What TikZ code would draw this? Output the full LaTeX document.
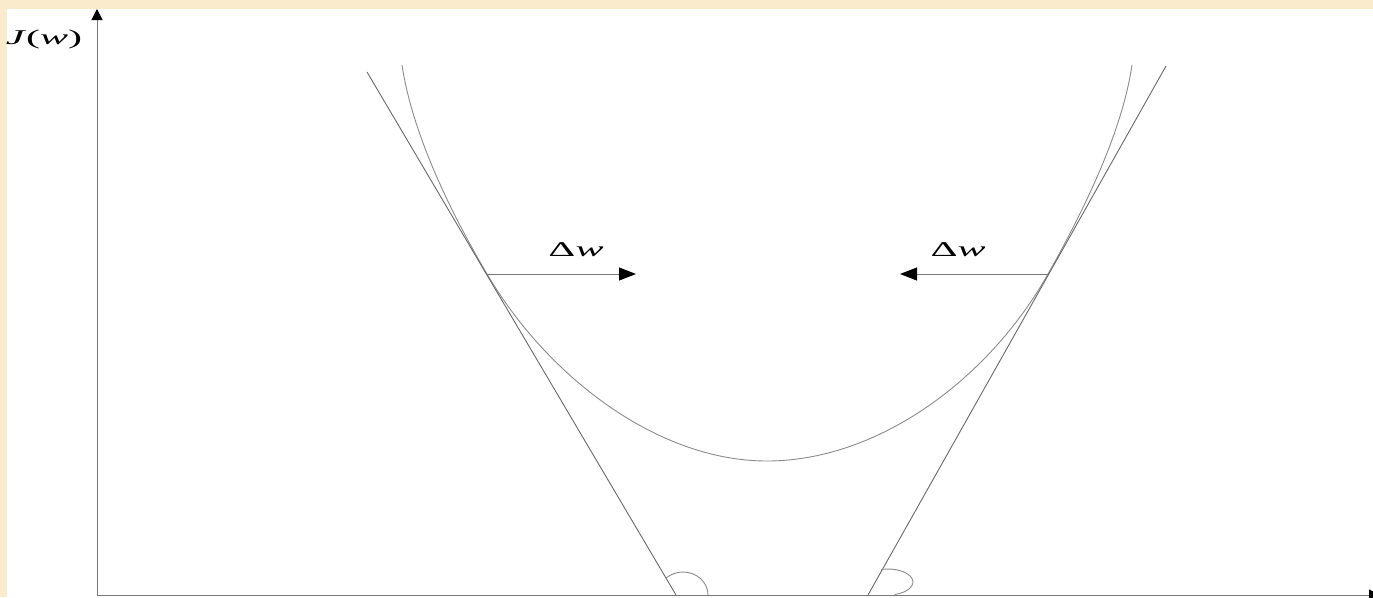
\documentclass[tikz,border=0pt]{standalone}
\usepackage{fontspec}
\setmainfont{Liberation Serif}
\usepackage{xcolor}
\usetikzlibrary{arrows.meta}
\definecolor{parchment}{RGB}{250,235,204}
\definecolor{axisgray}{RGB}{120,120,120}
\definecolor{curvegray}{RGB}{140,140,140}
\definecolor{tangentgray}{RGB}{105,105,105}

\begin{document}
\begin{tikzpicture}[
  x=1pt, y=-1pt,
  >={Triangle[length=11pt,width=11pt,color=black]},
  axis/.style={draw=axisgray, line width=1pt, ->},
  costcurve/.style={draw=curvegray, line width=0.9pt},
  tangent/.style={draw=tangentgray, line width=0.9pt},
  anglearc/.style={draw=curvegray, line width=0.9pt},
  wstep/.style={draw=axisgray, line width=1pt, -{Triangle[length=17pt,width=13pt,color=black]}},
  wlabel/.style={font=\fontsize{21}{25}\selectfont, xscale=2, inner sep=0pt}
]
\useasboundingbox (0,0) rectangle (1373,597);
\fill[parchment] (0,0) rectangle (1373,597);
\fill[white] (7,9) rectangle (1373,597);

\coordinate (origin) at (97,595);
\coordinate (ytop) at (97,9);
\coordinate (xend) at (1380,595);
\draw[axis] (origin) -- (ytop);
\draw[axis] (origin) -- (xend);
\node[wlabel] (jw) at (44,39) {\textit{J}(\textit{w})};

\coordinate (ctl) at (402,65);
\coordinate (lpt) at (487,274);
\coordinate (cmin) at (767,461);
\coordinate (rpt) at (1048,274);
\coordinate (ctr) at (1132,65);
\draw[costcurve] (ctl) .. controls (408,105) and (427,172) .. (lpt)
  .. controls (547,376) and (657,461) .. (cmin)
  .. controls (877,461) and (988,380.5) .. (rpt)
  .. controls (1108,167.5) and (1126,105) .. (ctr);

\coordinate (ltop) at (367,72);
\coordinate (lfoot) at (676,595);
\coordinate (rtop) at (1166,66);
\coordinate (rfoot) at (868,595);
\draw[tangent] (ltop) -- (lfoot);
\draw[tangent] (rtop) -- (rfoot);

\draw[anglearc] (708,595) arc[start angle=0, end angle=132, x radius=25pt, y radius=23pt];
\draw[anglearc] (881,569.5) arc[start angle=106, end angle=-74, x radius=25pt, y radius=13pt];

\coordinate (lstep) at (636,274);
\coordinate (rstep) at (900,274);
\draw[wstep] (lpt) -- (lstep);
\draw[wstep] (rpt) -- (rstep);
\node[wlabel] (dwl) at (576,250) {Δ\textit{w}};
\node[wlabel] (dwr) at (958,250) {Δ\textit{w}};
\end{tikzpicture}
\end{document}
